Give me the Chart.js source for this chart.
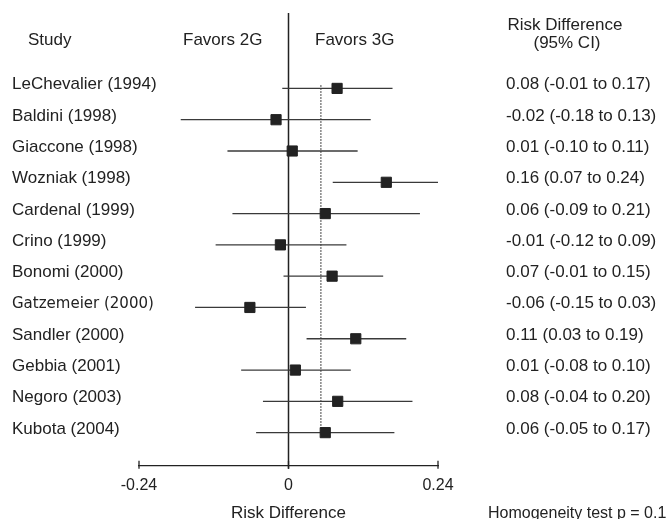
<!DOCTYPE html>
<html>
<head>
<meta charset="utf-8">
<script src="https://cdn.jsdelivr.net/npm/chart.js@4.4.1/dist/chart.umd.min.js"></script>
<style>
  html, body { margin: 0; padding: 0; background: #fff; }
  #wrap { width: 666px; height: 519px; position: relative; }
</style>
</head>
<body>
<div id="wrap"><canvas id="forestChart"></canvas></div>
<script>
// Study labels, top to bottom
const studies = [
    "LeChevalier (1994)", "Baldini (1998)", "Giaccone (1998)", "Wozniak (1998)",
    "Cardenal (1999)", "Crino (1999)", "Bonomi (2000)", "Gatzemeier (2000)",
    "Sandler (2000)", "Gebbia (2001)", "Negoro (2003)", "Kubota (2004)",
];

// Point estimates and 95% CI bounds (risk difference)
const riskDiff = [0.078, -0.020, 0.006, 0.157, 0.059, -0.013, 0.070, -0.062, 0.108, 0.011, 0.079, 0.059];
const ciLow = [-0.010, -0.173, -0.098, 0.071, -0.090, -0.117, -0.008, -0.150, 0.029, -0.076, -0.041, -0.052];
const ciHigh = [0.167, 0.132, 0.111, 0.240, 0.211, 0.093, 0.152, 0.028, 0.189, 0.100, 0.199, 0.170];

// Right-hand column text
const ciText = [
    "0.08 (-0.01 to 0.17)", "-0.02 (-0.18 to 0.13)", "0.01 (-0.10 to 0.11)", "0.16 (0.07 to 0.24)",
    "0.06 (-0.09 to 0.21)", "-0.01 (-0.12 to 0.09)", "0.07 (-0.01 to 0.15)", "-0.06 (-0.15 to 0.03)",
    "0.11 (0.03 to 0.19)", "0.01 (-0.08 to 0.10)", "0.08 (-0.04 to 0.20)", "0.06 (-0.05 to 0.17)",
];

// Pooled estimate (dotted line) and axis ticks
const pooled = 0.052;
const xTicks = [-0.24, 0, 0.24];

const ink = "#222";
const lineInk = "#3a3a3a";
const sans = "'Liberation Sans', Arial, sans-serif";

// rows are 1..n on a reversed linear y scale
const rowOf = (i) => i + 1;

// one two-point line per study for its CI
const ciDatasets = studies.map((s, i) => ({
    type: "line",
    data: [{ x: ciLow[i], y: rowOf(i) }, { x: ciHigh[i], y: rowOf(i) }],
    borderColor: lineInk,
    borderWidth: 1.3,
    pointRadius: 0,
    fill: false,
    order: 2,
}));

const pointDataset = {
    type: "scatter",
    data: riskDiff.map((v, i) => ({ x: v, y: rowOf(i) })),
    pointStyle: "rect",
    pointRadius: 7.2,
    backgroundColor: ink,
    borderColor: ink,
    borderWidth: 1,
    order: 1,
};

/**
 * Draws reference lines, tick marks and all the table text
 */
const forestDecor = {
    id: "forestDecor",
    beforeDatasetsDraw(chart) {
        const { ctx, chartArea } = chart;
        const x = chart.scales.x;
        const y = chart.scales.y;
        ctx.save();

        // zero line
        const x0 = x.getPixelForValue(0);
        ctx.strokeStyle = ink;
        ctx.lineWidth = 1.5;
        ctx.beginPath();
        ctx.moveTo(x0, chartArea.top);
        ctx.lineTo(x0, chartArea.bottom + 3);
        ctx.stroke();

        // pooled estimate, dotted
        const xp = x.getPixelForValue(pooled);
        ctx.strokeStyle = "#333";
        ctx.lineWidth = 1.2;
        ctx.setLineDash([1.5, 1.5]);
        ctx.beginPath();
        ctx.moveTo(xp, y.getPixelForValue(0.9));
        ctx.lineTo(xp, y.getPixelForValue(12.1));
        ctx.stroke();
        ctx.setLineDash([]);

        // tick marks at the ends of the axis
        ctx.strokeStyle = ink;
        ctx.lineWidth = 1.3;
        xTicks.forEach((t) => {
            const px = x.getPixelForValue(t);
            ctx.beginPath();
            ctx.moveTo(px, chartArea.bottom - 5);
            ctx.lineTo(px, chartArea.bottom + 3);
            ctx.stroke();
        });
        ctx.restore();
    },
    afterDraw(chart) {
        const { ctx } = chart;
        const y = chart.scales.y;
        ctx.save();
        ctx.fillStyle = ink;
        ctx.textBaseline = "alphabetic";

        // header
        ctx.font = "17px " + sans;
        ctx.textAlign = "left";
        ctx.fillText("Study", 28, 45);
        ctx.fillText("Favors 2G", 183, 45);
        ctx.fillText("Favors 3G", 315, 45);
        ctx.textAlign = "center";
        ctx.fillText("Risk Difference", 565, 30);
        ctx.fillText("(95% CI)", 567, 48);

        // study names and CI text
        studies.forEach((s, i) => {
            const py = y.getPixelForValue(rowOf(i)) + 1;
            ctx.textAlign = "left";
            ctx.font = s.startsWith("Gatzemeier") ? "15px 'DejaVu Sans', sans-serif" : "17px " + sans;
            ctx.fillText(s, 12, py);
            ctx.font = "17px " + sans;
            ctx.fillText(ciText[i], 506, py);
        });

        ctx.font = "16px " + sans;
        ctx.fillText("Homogeneity test p = 0.1", 488, 518);
        ctx.restore();
    },
};

new Chart(document.getElementById("forestChart"), {
    data: { datasets: [...ciDatasets, pointDataset] },
    options: {
        responsive: true,
        maintainAspectRatio: false,
        animation: false,
        events: [],
        layout: { padding: { left: 139, right: 228, top: 13, bottom: -7 } },
        plugins: { legend: { display: false }, tooltip: { enabled: false } },
        scales: {
            x: {
                type: "linear",
                min: -0.24,
                max: 0.24,
                afterBuildTicks: (scale) => {
                    scale.ticks = xTicks.map((v) => ({ value: v }));
                },
                grid: { display: true, drawOnChartArea: false, drawTicks: false },
                border: { display: true, color: ink, width: 1.3 },
                ticks: {
                    color: ink,
                    padding: 10,
                    maxRotation: 0,
                    font: { family: sans, size: 16 },
                    callback: (v) => (v === 0 ? "0" : v.toFixed(2)),
                },
                title: {
                    display: true,
                    text: "Risk Difference",
                    color: ink,
                    font: { family: sans, size: 17, lineHeight: 1 },
                    padding: { top: 0, bottom: 4 },
                },
            },
            y: {
                type: "linear",
                reverse: true,
                min: -1.41,
                max: 13.06,
                display: false,
            },
        },
    },
    plugins: [forestDecor],
});
</script>
</body>
</html>
